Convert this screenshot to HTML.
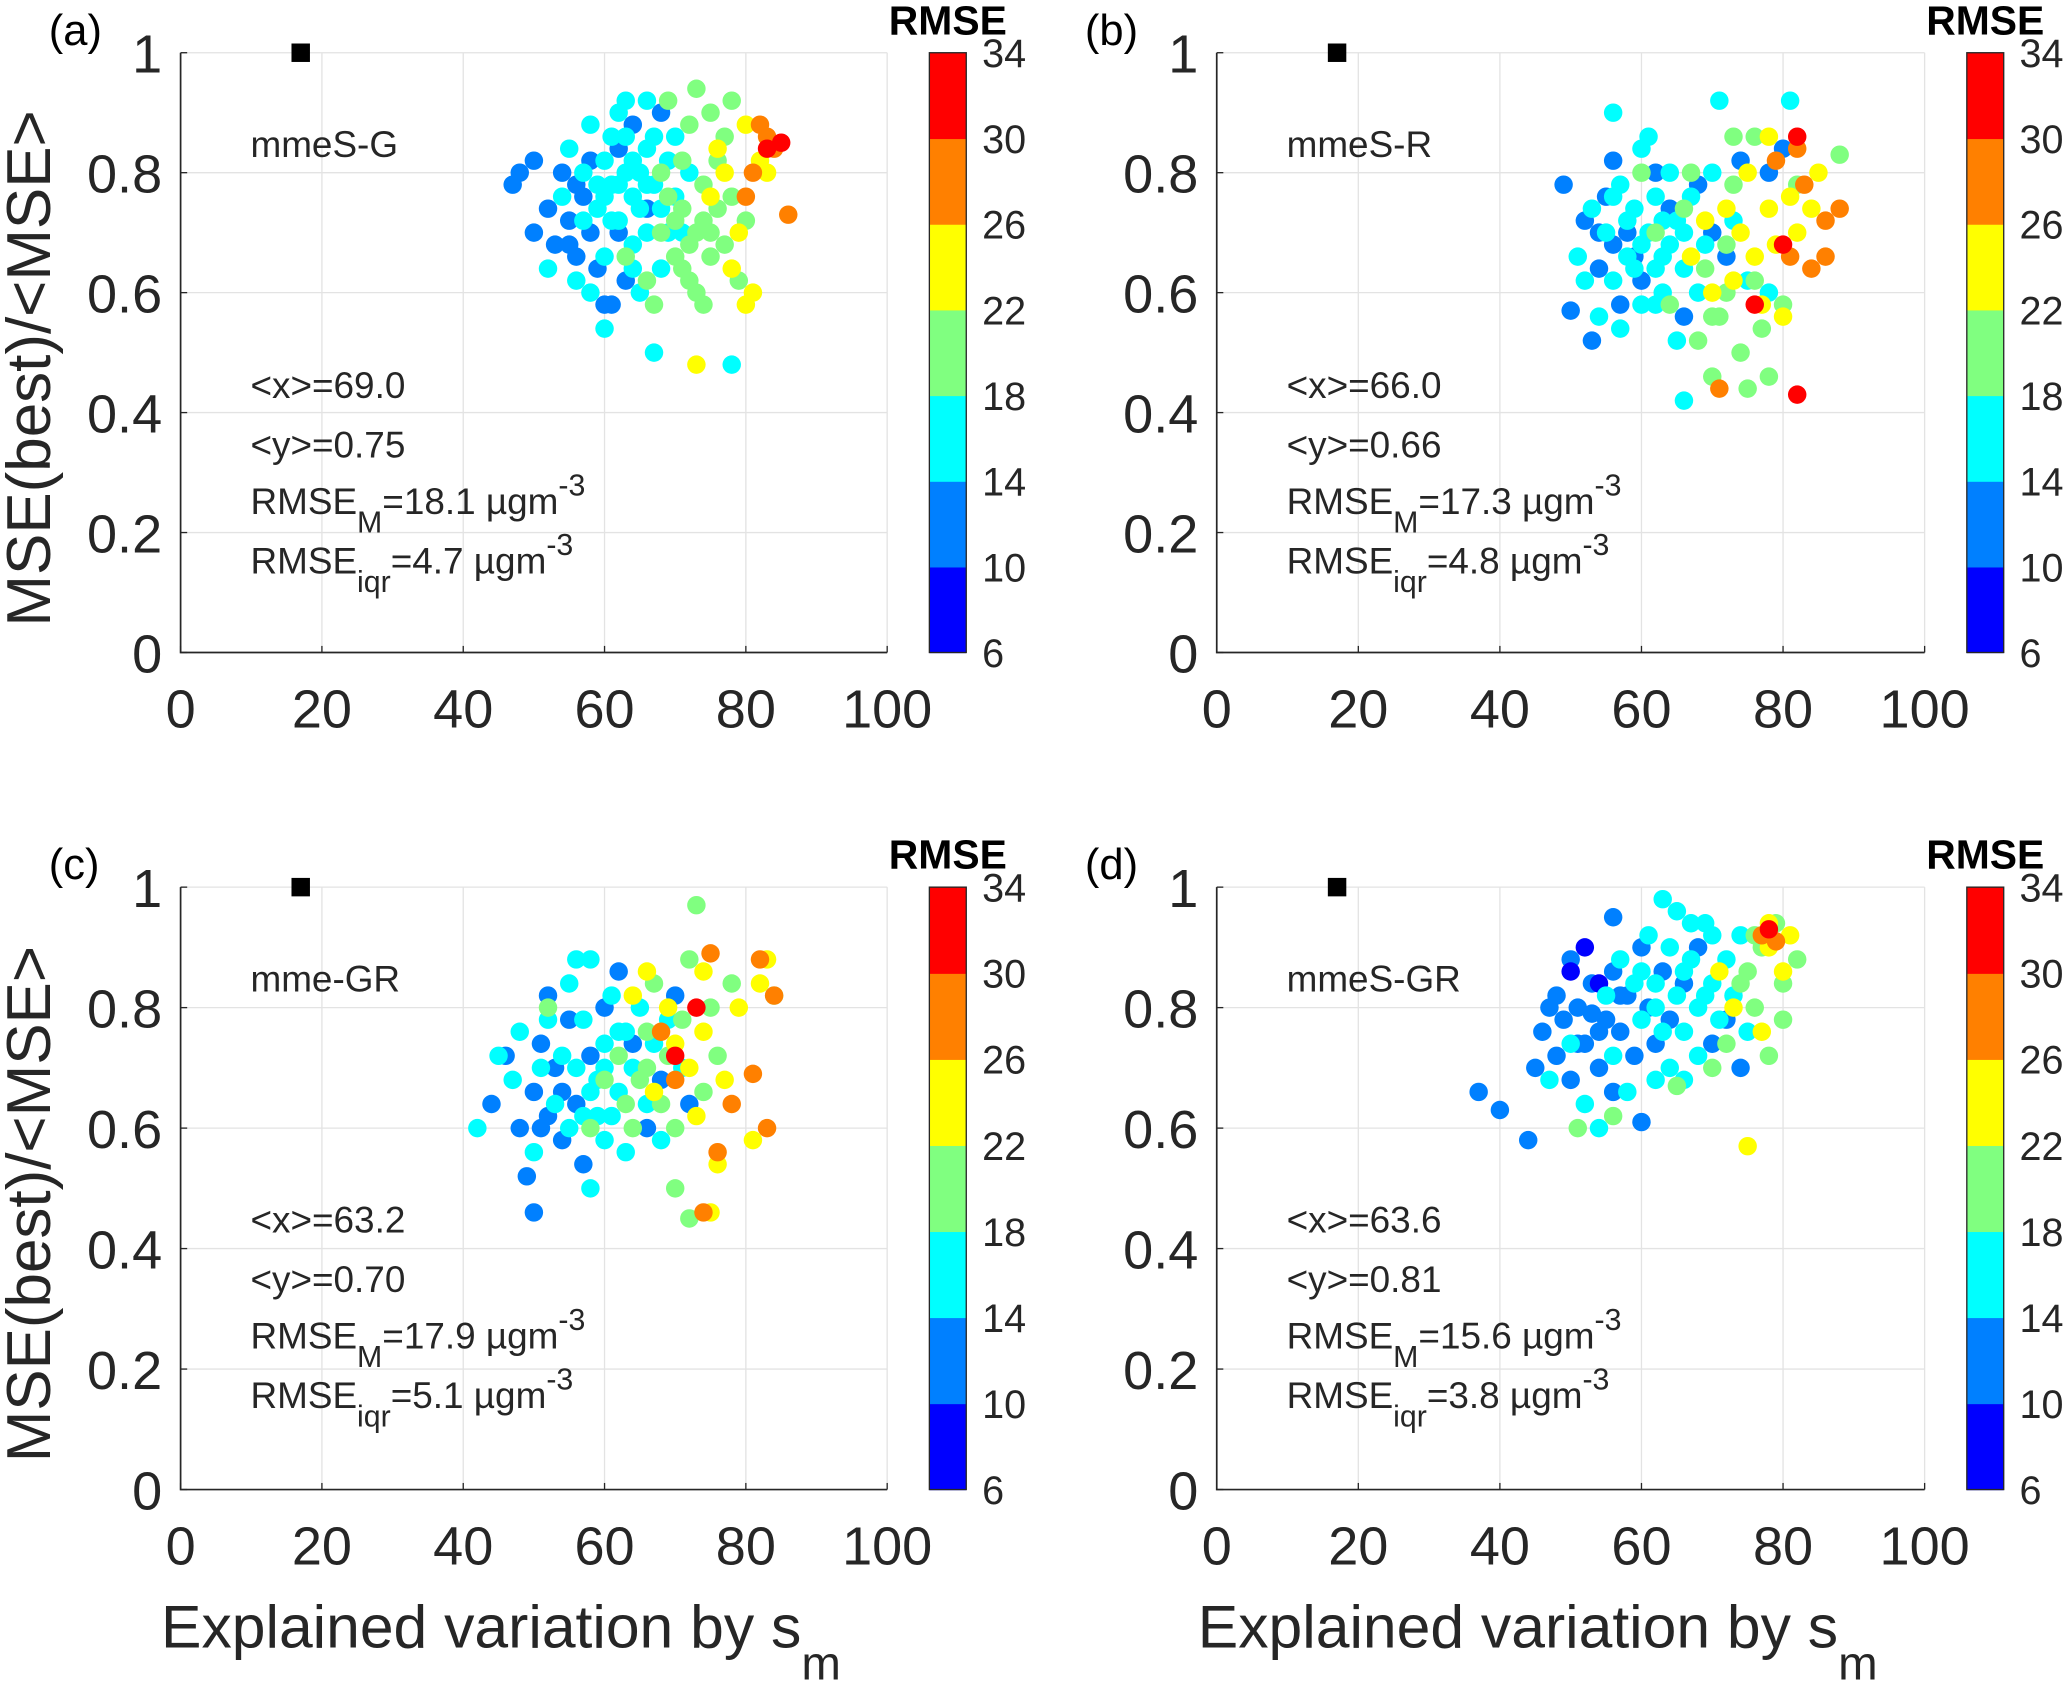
<!DOCTYPE html>
<html><head><meta charset="utf-8"><style>
html,body{margin:0;padding:0;background:#fff;}
svg{display:block;font-family:"Liberation Sans",sans-serif;}
</style></head><body>
<svg id="fig" width="2067" height="1682" viewBox="0 0 1568 1276" preserveAspectRatio="none" xmlns="http://www.w3.org/2000/svg"></svg>
<script>
const NS="http://www.w3.org/2000/svg";
const xTicks=[0,20,40,60,80,100];
const yTicks=[0,0.2,0.4,0.6,0.8,1];
const yTickLabels=["0","0.2","0.4","0.6","0.8","1"];
const cbTicks=[6,10,14,18,22,26,30,34];
const cbColors=["#0000ff","#0080ff","#00ffff","#80ff80","#ffff00","#ff8000","#ff0000"];
const panelLetters=["(a)","(b)","(c)","(d)"];
const modelNames=["mmeS-G","mmeS-R","mme-GR","mmeS-GR"];
const meanX=["69.0","66.0","63.2","63.6"];
const meanY=["0.75","0.66","0.70","0.81"];
const rmseM=["18.1","17.3","17.9","15.6"];
const rmseIqr=["4.7","4.8","5.1","3.8"];
const bestPoint=[17,1.0];
const ptsA=[[47,0.78,12],[48,0.80,12],[50,0.82,12],[50,0.70,12],[52,0.74,12],[53,0.68,12],[54,0.80,12],[55,0.72,12],[56,0.66,12],[57,0.76,12],[58,0.82,12],[60,0.58,12],[61,0.58,12],[62,0.84,12],[63,0.62,12],[64,0.88,12],[66,0.74,12],[68,0.90,12],[58,0.70,12],[62,0.70,12],[56,0.78,12],[59,0.64,12],[55,0.68,12],
[52,0.64,16],[54,0.76,16],[55,0.84,16],[56,0.62,16],[57,0.80,16],[58,0.88,16],[59,0.74,16],[60,0.66,16],[60,0.82,16],[61,0.78,16],[62,0.72,16],[62,0.90,16],[63,0.86,16],[64,0.76,16],[64,0.68,16],[65,0.80,16],[65,0.60,16],[66,0.84,16],[66,0.70,16],[67,0.78,16],[67,0.50,16],[68,0.74,16],[68,0.64,16],[69,0.82,16],[70,0.76,16],[70,0.86,16],[71,0.70,16],[72,0.80,16],[60,0.54,16],[63,0.92,16],[66,0.92,16],[58,0.60,16],[78,0.48,16],[61,0.86,16],[64,0.82,16],[69,0.70,16],[59,0.78,16],[61,0.72,16],[63,0.80,16],[65,0.74,16],[67,0.86,16],[62,0.78,16],[60,0.76,16],[57,0.72,16],[64,0.64,16],[66,0.78,16],
[63,0.66,20],[66,0.62,20],[68,0.70,20],[69,0.92,20],[70,0.66,20],[71,0.74,20],[72,0.62,20],[72,0.88,20],[73,0.94,20],[73,0.70,20],[74,0.78,20],[74,0.58,20],[75,0.66,20],[75,0.90,20],[76,0.74,20],[76,0.82,20],[77,0.68,20],[78,0.76,20],[78,0.92,20],[79,0.62,20],[80,0.72,20],[67,0.58,20],[71,0.82,20],[73,0.60,20],[77,0.86,20],[70,0.72,20],[72,0.68,20],[74,0.72,20],[69,0.76,20],[71,0.64,20],[75,0.70,20],[68,0.80,20],
[73,0.48,24],[76,0.84,24],[78,0.64,24],[80,0.58,24],[81,0.60,24],[82,0.82,24],[80,0.88,24],[83,0.80,24],[79,0.70,24],[75,0.76,24],[77,0.80,24],
[80,0.76,28],[82,0.88,28],[84,0.84,28],[86,0.73,28],[81,0.80,28],[83,0.86,28],[85,0.85,32],[83,0.84,32]];
const ptsB=[[49,0.78,12],[50,0.57,12],[52,0.72,12],[53,0.52,12],[54,0.64,12],[55,0.76,12],[56,0.68,12],[57,0.58,12],[58,0.70,12],[60,0.62,12],[62,0.80,12],[64,0.74,12],[66,0.56,12],[68,0.78,12],[70,0.70,12],[72,0.66,12],[74,0.82,12],[78,0.80,12],[80,0.84,12],[56,0.82,12],[54,0.70,12],[59,0.66,12],
[51,0.66,16],[52,0.62,16],[53,0.74,16],[54,0.56,16],[55,0.70,16],[56,0.62,16],[57,0.78,16],[57,0.54,16],[58,0.66,16],[59,0.74,16],[60,0.58,16],[60,0.84,16],[61,0.70,16],[62,0.64,16],[62,0.76,16],[63,0.60,16],[64,0.68,16],[64,0.80,16],[65,0.72,16],[65,0.52,16],[66,0.64,16],[67,0.76,16],[68,0.60,16],[69,0.68,16],[70,0.80,16],[71,0.92,16],[73,0.72,16],[75,0.62,16],[78,0.60,16],[81,0.92,16],[56,0.90,16],[61,0.86,16],[66,0.42,16],[59,0.64,16],[63,0.72,16],[58,0.72,16],[60,0.68,16],[62,0.58,16],[66,0.70,16],[56,0.76,16],[63,0.66,16],
[60,0.80,20],[62,0.70,20],[64,0.58,20],[66,0.74,20],[68,0.52,20],[69,0.64,20],[70,0.46,20],[71,0.56,20],[72,0.68,20],[73,0.78,20],[74,0.50,20],[75,0.44,20],[76,0.62,20],[77,0.54,20],[78,0.46,20],[80,0.58,20],[82,0.78,20],[88,0.83,20],[73,0.86,20],[76,0.86,20],[67,0.80,20],[70,0.56,20],[72,0.60,20],
[67,0.66,24],[69,0.72,24],[70,0.60,24],[72,0.74,24],[73,0.62,24],[74,0.70,24],[75,0.80,24],[76,0.66,24],[77,0.58,24],[78,0.74,24],[79,0.68,24],[80,0.56,24],[81,0.76,24],[82,0.70,24],[84,0.74,24],[85,0.80,24],[78,0.86,24],
[71,0.44,28],[79,0.82,28],[81,0.66,28],[83,0.78,28],[84,0.64,28],[86,0.66,28],[86,0.72,28],[88,0.74,28],[82,0.84,28],
[76,0.58,32],[80,0.68,32],[82,0.43,32],[82,0.86,32]];
const ptsC=[[44,0.64,12],[46,0.72,12],[48,0.60,12],[49,0.52,12],[50,0.46,12],[50,0.66,12],[51,0.74,12],[52,0.62,12],[53,0.70,12],[54,0.58,12],[55,0.78,12],[56,0.64,12],[57,0.54,12],[58,0.72,12],[60,0.80,12],[62,0.86,12],[64,0.74,12],[66,0.60,12],[68,0.68,12],[70,0.82,12],[72,0.64,12],[52,0.82,12],[54,0.66,12],[51,0.60,12],
[42,0.60,16],[45,0.72,16],[47,0.68,16],[48,0.76,16],[50,0.56,16],[51,0.70,16],[52,0.78,16],[53,0.64,16],[54,0.72,16],[55,0.60,16],[55,0.84,16],[56,0.70,16],[57,0.62,16],[57,0.78,16],[58,0.88,16],[58,0.50,16],[59,0.68,16],[60,0.74,16],[60,0.58,16],[61,0.82,16],[62,0.66,16],[63,0.76,16],[63,0.56,16],[64,0.70,16],[65,0.80,16],[66,0.64,16],[67,0.74,16],[68,0.58,16],[69,0.78,16],[71,0.70,16],[56,0.88,16],[61,0.62,16],[58,0.66,16],[60,0.70,16],[62,0.76,16],[59,0.62,16],
[52,0.80,20],[58,0.60,20],[60,0.68,20],[62,0.72,20],[63,0.64,20],[64,0.60,20],[65,0.68,20],[66,0.76,20],[67,0.84,20],[68,0.64,20],[69,0.72,20],[70,0.60,20],[70,0.50,20],[71,0.78,20],[72,0.88,20],[72,0.45,20],[73,0.97,20],[74,0.66,20],[75,0.80,20],[76,0.72,20],[78,0.84,20],[84,0.82,20],[66,0.70,20],
[64,0.82,24],[66,0.86,24],[67,0.66,24],[69,0.80,24],[70,0.74,24],[72,0.70,24],[73,0.62,24],[74,0.86,24],[75,0.46,24],[76,0.54,24],[77,0.68,24],[79,0.80,24],[81,0.58,24],[82,0.84,24],[83,0.88,24],[74,0.76,24],
[68,0.76,28],[70,0.68,28],[74,0.46,28],[75,0.89,28],[76,0.56,28],[78,0.64,28],[81,0.69,28],[82,0.88,28],[83,0.60,28],[84,0.82,28],[70,0.72,32],[73,0.80,32]];
const ptsD=[[37,0.66,12],[40,0.63,12],[44,0.58,12],[45,0.70,12],[46,0.76,12],[48,0.82,12],[48,0.72,12],[49,0.78,12],[50,0.88,12],[50,0.68,12],[51,0.80,12],[52,0.74,12],[53,0.84,12],[54,0.70,12],[55,0.78,12],[56,0.86,12],[56,0.66,12],[57,0.76,12],[58,0.82,12],[59,0.72,12],[60,0.90,12],[60,0.61,12],[61,0.80,12],[62,0.74,12],[63,0.86,12],[64,0.78,12],[66,0.84,12],[68,0.90,12],[70,0.74,12],[72,0.78,12],[74,0.70,12],[56,0.95,12],[53,0.79,12],[51,0.74,12],[54,0.76,12],[57,0.82,12],[47,0.80,12],
[50,0.86,8],[52,0.90,8],[54,0.84,8],
[47,0.68,16],[50,0.74,16],[52,0.64,16],[54,0.60,16],[55,0.82,16],[56,0.72,16],[57,0.88,16],[58,0.66,16],[59,0.84,16],[60,0.78,16],[61,0.92,16],[62,0.68,16],[62,0.84,16],[63,0.76,16],[64,0.90,16],[64,0.70,16],[65,0.82,16],[65,0.96,16],[66,0.76,16],[66,0.68,16],[67,0.88,16],[68,0.80,16],[68,0.72,16],[69,0.94,16],[70,0.84,16],[70,0.92,16],[71,0.78,16],[72,0.88,16],[73,0.82,16],[74,0.92,16],[75,0.76,16],[63,0.98,16],[67,0.94,16],[60,0.86,16],[62,0.80,16],[66,0.86,16],[69,0.82,16],
[51,0.60,20],[56,0.62,20],[65,0.67,20],[70,0.70,20],[72,0.74,20],[74,0.84,20],[75,0.86,20],[76,0.80,20],[77,0.90,20],[78,0.72,20],[79,0.94,20],[80,0.84,20],[80,0.78,20],[82,0.88,20],[76,0.92,20],
[71,0.86,24],[73,0.80,24],[75,0.57,24],[77,0.76,24],[78,0.90,24],[80,0.86,24],[81,0.92,24],[78,0.94,24],
[77,0.92,28],[79,0.91,28],[78,0.93,32]];
const allPts=[ptsA,ptsB,ptsC,ptsD];

const layout=[{x0:137,x1:673,yt:40,yb:495,cb:705},{x0:923,x1:1460,yt:40,yb:495,cb:1492},
{x0:137,x1:673,yt:673,yb:1130,cb:705},{x0:923,x1:1460,yt:673,yb:1130,cb:1492}];
const svg=document.getElementById('fig');
function mk(tag,attrs,parent,text){const e=document.createElementNS(NS,tag);for(const k in attrs)e.setAttribute(k,attrs[k]);if(text!==undefined)e.textContent=text;(parent||svg).appendChild(e);return e;}
function colorOf(v){let i=Math.floor((v-6)/4);i=Math.max(0,Math.min(6,i));return cbColors[i];}

layout.forEach((L,p)=>{
  const g=mk('g',{});
  
  
  const sx=v=>L.x0+(v/100)*(L.x1-L.x0);
  const sy=v=>L.yb-v*(L.yb-L.yt);
  xTicks.forEach(t=>{if(t>0){const l=mk('line',{x1:sx(t),x2:sx(t),y1:L.yt,y2:L.yb,stroke:'#e3e3e3','stroke-width':1},g);}});
  yTicks.forEach(t=>{if(t>0){const l=mk('line',{x1:L.x0,x2:L.x1,y1:sy(t),y2:sy(t),stroke:'#e3e3e3','stroke-width':1},g);}});
  const ax=mk('path',{d:`M${L.x0},${L.yt}V${L.yb}H${L.x1}`,fill:'none',stroke:'#262626','stroke-width':1.3},g);
  
  xTicks.forEach(t=>{mk('line',{x1:sx(t),x2:sx(t),y1:L.yb,y2:L.yb-5,stroke:'#262626'},g);
    const tl=mk('text',{x:sx(t),y:L.yb+57,'font-size':41,'text-anchor':'middle',fill:'#262626'},g,String(t));
    });
  yTicks.forEach((t,i)=>{mk('line',{x1:L.x0,x2:L.x0+5,y1:sy(t),y2:sy(t),stroke:'#262626'},g);
    const tl=mk('text',{x:L.x0-14,y:sy(t)+15,'font-size':41,'text-anchor':'end',fill:'#262626'},g,yTickLabels[i]);
    });
  allPts[p].forEach(pt=>{const c=mk('circle',{cx:sx(pt[0]),cy:sy(pt[1]),r:7,fill:colorOf(pt[2])},g);
    });
  const bp=mk('rect',{x:sx(bestPoint[0])-7,y:sy(bestPoint[1])-7,width:14,height:14,fill:'#000'},g);
  
  const lt=mk('text',{x:L.x0-100,y:L.yt-6,'font-size':33,fill:'#000'},g,panelLetters[p]);
  
  const tx=L.x0+53;
  const mn=mk('text',{x:tx,y:L.yt+79,'font-size':28,fill:'#262626'},g,modelNames[p]);
  
  const s1=mk('text',{x:tx,y:L.yt+262,'font-size':28,fill:'#262626'},g,'<x>='+meanX[p]);
  
  const s2=mk('text',{x:tx,y:L.yt+307,'font-size':28,fill:'#262626'},g,'<y>='+meanY[p]);
  
  const s3=mk('text',{x:tx,y:L.yt+350,'font-size':28,fill:'#262626'},g);
  
  mk('tspan',{},s3,'RMSE');mk('tspan',{dy:14,'font-size':23},s3,'M');mk('tspan',{dy:-14},s3,'='+rmseM[p]+' µgm');mk('tspan',{dy:-14,'font-size':23},s3,'-3');
  const s4=mk('text',{x:tx,y:L.yt+395,'font-size':28,fill:'#262626'},g);
  
  mk('tspan',{},s4,'RMSE');mk('tspan',{dy:14,'font-size':23},s4,'iqr');mk('tspan',{dy:-14},s4,'='+rmseIqr[p]+' µgm');mk('tspan',{dy:-14,'font-size':23},s4,'-3');
  const cbg=mk('g',{},g);
  const cy=v=>L.yb-(v-6)/28*(L.yb-L.yt);
  cbColors.forEach((c,i)=>{mk('rect',{x:L.cb,y:cy(cbTicks[i+1]),width:28,height:cy(cbTicks[i])-cy(cbTicks[i+1])+0.5,fill:c},cbg);});
  mk('rect',{x:L.cb,y:L.yt,width:28,height:L.yb-L.yt,fill:'none',stroke:'#262626','stroke-width':1},cbg);
  cbTicks.forEach(t=>{const tl=mk('text',{x:L.cb+40,y:cy(t)+11,'font-size':30,fill:'#262626'},cbg,String(t));
    });
  const ct=mk('text',{x:L.cb+14,y:L.yt-14,'font-size':31,'font-weight':'bold','text-anchor':'middle',fill:'#000'},cbg,'RMSE');
  
  if(p%2===0){const yt=mk('text',{x:0,y:0,'font-size':47,'text-anchor':'middle',fill:'#262626',transform:`translate(38,${(L.yt+L.yb)/2+12}) rotate(-90)`},g,'MSE(best)/<MSE>');
    }
  if(p>=2){const xt=mk('text',{x:(L.x0+L.x1)/2-25,y:1250,'font-size':46,'text-anchor':'middle',fill:'#262626'},g);
    
    mk('tspan',{},xt,'Explained variation by s');mk('tspan',{dy:24,'font-size':36},xt,'m');}
});
</script>
</body></html>
